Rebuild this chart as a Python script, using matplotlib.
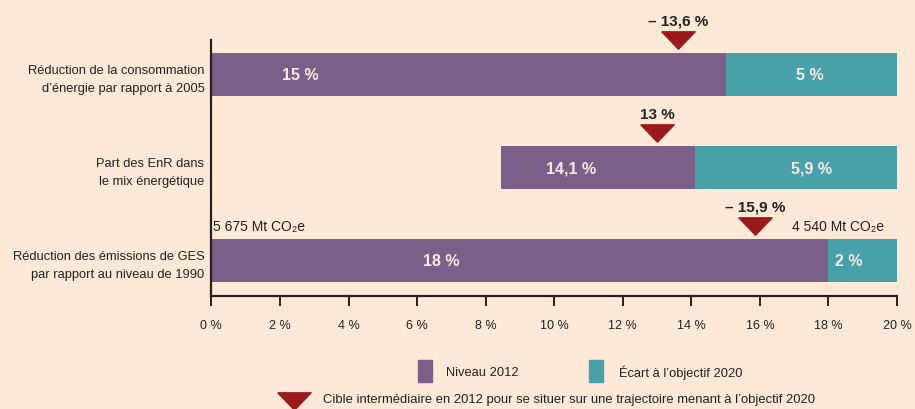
import matplotlib.pyplot as plt
from matplotlib.patches import Rectangle
from matplotlib.lines import Line2D

# donnees
categories = ["Réduction de la consommation\nd’énergie par rapport à 2005",
              "Part des EnR dans\nle mix énergétique",
              "Réduction des émissions de GES\npar rapport au niveau de 1990"]
debut = [0, 8.45, 0]
niveau_2012 = [15, 5.65, 18]
ecart_2020 = [5, 5.9, 2]
labels_niveau = ["15 %", "14,1 %", "18 %"]
labels_ecart = ["5 %", "5,9 %", "2 %"]
cibles = [13.6, 13.0, 15.85]
labels_cibles = ["– 13,6 %", "13 %", "– 15,9 %"]
ticks = list(range(0, 21, 2))
tick_labels = [f"{t} %" for t in ticks]

BG = '#fee8d8'
VIOLET = '#7a6089'
TEAL = '#48a0a8'
ROUGE = '#9b1a1e'
DARK = '#222222'
CLAIR = '#f6ebe2'

plt.rcParams['font.family'] = ['Liberation Sans', 'DejaVu Sans']

fig = plt.figure(figsize=(9.15, 4.1), dpi=100, facecolor=BG)
ax = fig.add_axes([0.231, 0.2756, 0.7494, 0.6244])
ax.set_facecolor(BG)

y = [2, 1, 0]
h = 0.46
ax.barh(y, niveau_2012, left=debut, height=h, color=VIOLET)
left2 = [d + n for d, n in zip(debut, niveau_2012)]
ax.barh(y, ecart_2020, left=left2, height=h, color=TEAL)

# textes dans les barres
x_niv = [2.6, 10.5, 6.7]
x_ec = [17.45, 17.5, 18.6]
for yi, xn, xe, ln, le in zip(y, x_niv, x_ec, labels_niveau, labels_ecart):
    ax.text(xn, yi, ln, ha='center', va='center', color=CLAIR,
            fontsize=11.5, fontweight='bold')
    ax.text(xe, yi, le, ha='center', va='center', color=CLAIR,
            fontsize=11.5, fontweight='bold')

# triangles (cibles intermediaires)
tri = [(-1, 0.52), (1, 0.52), (0, -0.52), (-1, 0.52)]
for yi, c, lc in zip(y, cibles, labels_cibles):
    ax.plot([c], [yi + 0.37], marker=tri, markersize=24, color=ROUGE,
            linestyle='none', clip_on=False)
    ax.text(c, yi + 0.58, lc, ha='center', va='center', color=DARK,
            fontsize=11, fontweight='bold', clip_on=False)

ax.text(0.05, 0.37, "5 675 Mt CO₂e", ha='left', va='center', color=DARK, fontsize=10)
ax.text(19.62, 0.37, "4 540 Mt CO₂e", ha='right', va='center', color=DARK, fontsize=10)

ax.set_xlim(0, 20)
ax.set_ylim(-0.38, 2.37)
ax.set_xticks(ticks)
ax.set_xticklabels(tick_labels)
ax.set_yticks(y)
ax.set_yticklabels(categories, linespacing=1.7)

for pos in ('top', 'right'):
    ax.spines[pos].set_visible(False)
for pos in ('left', 'bottom'):
    ax.spines[pos].set_color(DARK)
    ax.spines[pos].set_linewidth(1.6)

ax.tick_params(axis='x', direction='out', length=7.5, width=1.4, color=DARK,
               labelsize=9, labelcolor=DARK, pad=9)
ax.tick_params(axis='y', length=0, labelsize=9.3, labelcolor=DARK, pad=5)

# legende
fig.patches.append(Rectangle((418 / 915, 1 - 383 / 410), 14 / 915, 22 / 410,
                             transform=fig.transFigure, color=VIOLET))
fig.text(446 / 915, 1 - 373 / 410, "Niveau 2012", ha='left', va='center',
         fontsize=9.3, color=DARK)
fig.patches.append(Rectangle((589 / 915, 1 - 383 / 410), 14 / 915, 22 / 410,
                             transform=fig.transFigure, color=TEAL))
fig.text(619 / 915, 1 - 373 / 410, "Écart à l’objectif 2020", ha='left', va='center',
         fontsize=9.3, color=DARK)
fig.lines.append(Line2D([294 / 915], [1 - 402 / 410], marker=tri, markersize=24,
                        color=ROUGE, linestyle='none', transform=fig.transFigure))
fig.text(323 / 915, 1 - 400 / 410,
         "Cible intermédiaire en 2012 pour se situer sur une trajectoire menant à l’objectif 2020",
         ha='left', va='center', fontsize=9.4, color=DARK)

plt.savefig('out.png', dpi=100, facecolor=BG)
